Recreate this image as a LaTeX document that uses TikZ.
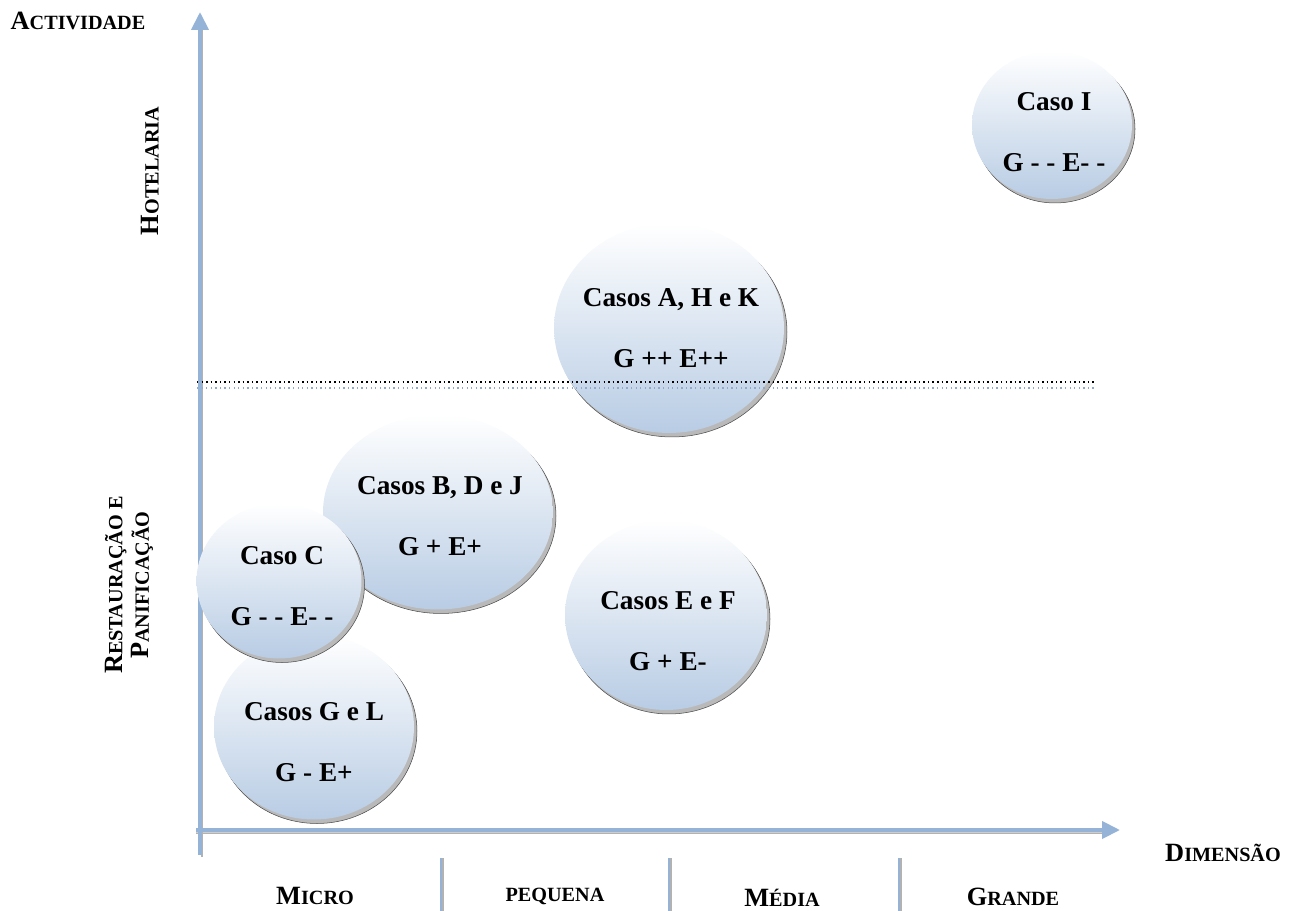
\documentclass[tikz,border=0pt]{standalone}
\usepackage{fontspec}
\setmainfont{Liberation Serif}
\usetikzlibrary{arrows.meta,shapes.geometric,shadows}

\definecolor{axisblue}{RGB}{149,179,215}
\definecolor{bubbleblue}{RGB}{184,204,228}

% fake small caps: big first letter, small rest
\newcommand\smcap[2]{{\fontsize{15}{16}\selectfont #1}{\fontsize{11.5}{13}\selectfont #2}}

\tikzset{
  bubble/.style={ellipse, inner sep=0pt, top color=white, bottom color=bubbleblue,
    general shadow={shadow xshift=0.06cm, shadow yshift=-0.08cm,
      fill=gray!55, draw=gray!60!black, line width=0.3pt}},
  bubbletext/.style={align=center, font=\bfseries\fontsize{15.5}{35}\selectfont},
  axislabel/.style={font=\bfseries\fontsize{11.5}{13}\selectfont, align=center},
  axisline/.style={axisblue, line width=0.08cm},
  axisshadow/.style={gray!60, line width=0.03cm},
}

\begin{document}
\begin{tikzpicture}[x=0.02cm, y=-0.02cm]
    \useasboundingbox (0,0) rectangle (1300,911);

    % 1. Axes
    \coordinate (origin) at (196,830);
    \coordinate (ybot)   at (200,855);
    \coordinate (ytip)   at (200,12);
    \coordinate (xtip)   at (1120,830);
    \coordinate (ytipS)  at (202,30);
    \coordinate (xtipS)  at (1104,833);
    \coordinate (ybotS)  at (202,857);

    \draw[axisshadow] (ybotS) -- (ytipS);
    \draw[axisshadow] ([yshift=-0.06cm]origin) -- (xtipS);
    \draw[axisline, -{Triangle[width=0.34cm, length=0.36cm]}] (ybot) -- (ytip);
    \draw[axisline, -{Triangle[width=0.34cm, length=0.36cm]}] (origin) -- (xtip);

    % separators between the size classes
    \foreach \x/\n in {441/sepA, 669/sepB, 899/sepC} {
        \coordinate (\n-top) at (\x,858);
        \coordinate (\n-bot) at (\x,911);
        \draw[axisshadow] ([xshift=0.04cm]\n-top) -- ([xshift=0.04cm]\n-bot);
        \draw[axisblue, line width=0.05cm] (\n-top) -- (\n-bot);
    }

    % 2. Bubbles (back to front)
    \node[bubble, minimum width=4.0cm, minimum height=3.7cm] (casosGL) at (314,727) {};
    \node[bubbletext] (casosGL-t) at (314,742) {Casos G e L\\G - E+};

    \node[bubble, minimum width=4.6cm, minimum height=3.9cm] (casosBDJ) at (438,512) {};
    \node[bubbletext] (casosBDJ-t) at (440,516) {Casos B, D e J\\G + E+};

    \node[bubble, minimum width=3.3cm, minimum height=3.1cm] (casoC) at (279,581) {};
    \node[bubbletext] (casoC-t) at (282,586) {Caso C\\G - - E- -};

    \node[bubble, minimum width=4.04cm, minimum height=3.8cm] (casosEF) at (666,615) {};
    \node[bubbletext] (casosEF-t) at (668,631) {Casos E e F\\G + E-};

    \node[bubble, minimum width=4.6cm, minimum height=4.2cm] (casosAHK) at (669,328) {};
    \node[bubbletext] (casosAHK-t) at (671,328) {Casos A, H e K\\G ++ E++};

    \node[bubble, minimum width=3.2cm, minimum height=2.96cm] (casoI) at (1052,125) {};
    \node[bubbletext] (casoI-t) at (1054,132) {Caso I\\G - - E- -};

    % 3. Dotted divider between the activities
    \coordinate (divL) at (197,382);
    \coordinate (divR) at (1095,382);
    \draw[axisblue!80!gray, line width=0.75pt, dash pattern=on 0.75pt off 1.85pt]
        ([yshift=-0.12cm]divL) -- ([yshift=-0.12cm]divR);
    \draw[black, line width=0.85pt, dash pattern=on 0.85pt off 1.75pt] (divL) -- (divR);

    % 4. Axis labels
    \node[axislabel] (actividade) at (78,21) {\smcap{A}{CTIVIDADE}};
    \node[axislabel, rotate=90] (hotelaria) at (150,171) {\smcap{H}{OTELARIA}};
    \node[axislabel, rotate=90, font=\bfseries\fontsize{11.5}{15}\selectfont]
        (restauracao) at (129,585)
        {\smcap{R}{ESTAURAÇÃO E}\\\smcap{P}{ANIFICAÇÃO}};
    \node[axislabel] (dimensao) at (1223,853) {\smcap{D}{IMENSÃO}};

    \node[axislabel] (micro)   at (315,896) {\smcap{M}{ICRO}};
    \node[axislabel] (pequena) at (555,896) {\smcap{}{PEQUENA}};
    \node[axislabel] (media)   at (782,898) {\smcap{M}{ÉDIA}};
    \node[axislabel] (grande)  at (1013,897) {\smcap{G}{RANDE}};
\end{tikzpicture}
\end{document}
